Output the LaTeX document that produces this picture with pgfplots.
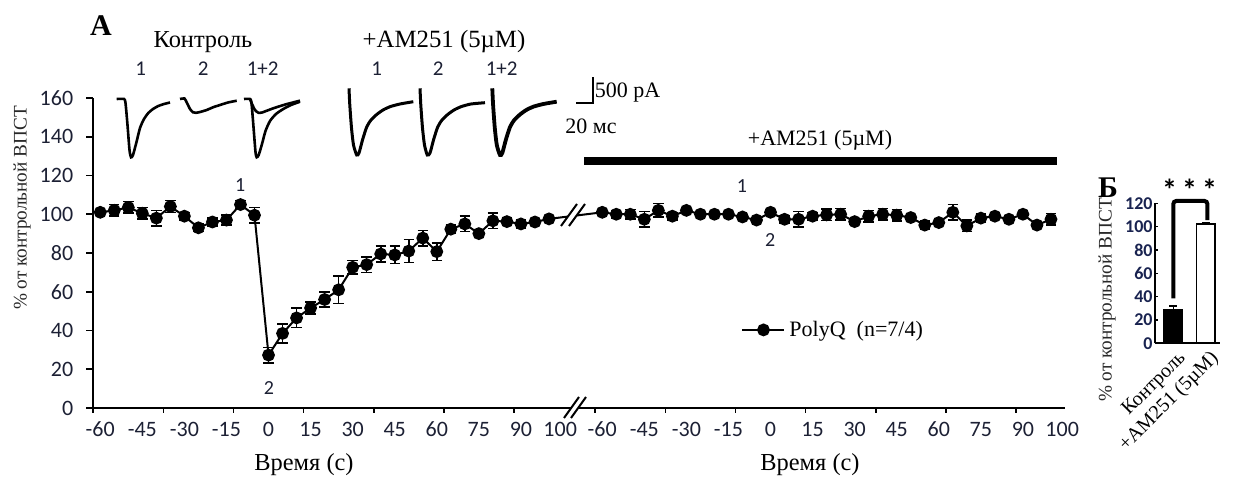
\documentclass[border=0pt]{standalone}
\usepackage{fontspec}
\setmainfont{Liberation Serif}
\newfontfamily\calibri{Carlito}
\usepackage{pgfplots}
\pgfplotsset{compat=1.18}
\definecolor{tickc}{RGB}{28,32,52}
\definecolor{tickb}{RGB}{25,35,80}
\definecolor{labc}{RGB}{40,40,40}
\newcommand{\fs}[1]{\fontsize{#1}{#1}\selectfont}
\begin{document}
\begin{tikzpicture}
\path[use as bounding box] (0,0) rectangle (618.5pt,240.5pt);

% ---------- Panel A ----------
\begin{axis}[
  at={(46.625pt,36.5pt)}, anchor=south west,
  scale only axis, width=485.875pt, height=155pt,
  xmin=-62.5, xmax=284, ymin=0, ymax=160,
  axis x line=bottom, axis y line=left,
  axis line style={-, line width=1pt, black},
  tick align=outside,
  major tick length=3.5pt, minor tick length=2.5pt,
  ytick={0,20,...,160},
  yticklabels={0,20,40,60,80,100,120,140,160},
  yticklabel style={font=\calibri\fs{11}, text=tickc, xshift=-3pt},
  xtick={-60,-45,-30,-15,0,15,30,45,60,75,90,104,119,134,149,164,179,194,209,224,239,254,269,283},
  xticklabels={-60,-45,-30,-15,0,15,30,45,60,75,90,100,-60,-45,-30,-15,0,15,30,45,60,75,90,100},
  xticklabel style={font=\calibri\fs{11}, text=tickc},
  every major x tick/.append style={draw=none},
  minor xtick={-62.5,-37.5,-12.5,12.5,37.5,62.5,87.5,116.5,141.5,166.5,191.5,216.5,241.5,266.5},
  every minor tick/.append style={line width=0.8pt, black},
  every major tick/.append style={line width=0.8pt, black},
  clip=false,
  legend style={at={(axis cs:168.5,40.3)}, anchor=west, draw=none, fill=none, inner sep=0pt, font=\fs{11}},
  legend image code/.code={\draw[mark repeat=2,mark phase=2] plot coordinates {(0pt,0pt)(10.5pt,0pt)(21pt,0pt)};},
]
\addplot[black, line width=1pt, mark=*, mark size=2.7pt, mark options={fill=black, solid},
  error bars/.cd, y dir=both, y explicit,
  error bar style={line width=0.8pt, black},
  error mark options={rotate=90, line width=0.8pt, mark size=2.6pt, black}]
coordinates {
(-60,101) +- (0,1.5)
(-55,102) +- (0,3)
(-50,103.5) +- (0,3)
(-45,100.5) +- (0,3)
(-40,98) +- (0,4)
(-35,104) +- (0,3)
(-30,99) +- (0,2)
(-25,93) +- (0,2)
(-20,96) +- (0,2)
(-15,97) +- (0,2.5)
(-10,105) +- (0,2)
(-5,99.5) +- (0,4)
(0,27.3) +- (0,4)
(5,38.5) +- (0,5)
(10,46.5) +- (0,5)
(15,51.6) +- (0,3)
(20,56) +- (0,4)
(25,61) +- (0,7)
(30,72.6) +- (0,3.5)
(35,74) +- (0,4)
(40,79.5) +- (0,4)
(45,79) +- (0,4.5)
(50,81) +- (0,6)
(55,87.7) +- (0,4)
(60,80.7) +- (0,4.5)
(65,92.3) +- (0,2)
(70,95) +- (0,4)
(75,90) +- (0,2)
(80,96.6) +- (0,4)
(85,96.2) +- (0,2)
(90,95) +- (0,2)
(95,96) +- (0,1)
(100,97.6) +- (0,1)
(119,101) +- (0,1)
(124,100) +- (0,2)
(129,100) +- (0,2.5)
(134,97.4) +- (0,4)
(139,102) +- (0,3.5)
(144,99) +- (0,2)
(149,102) +- (0,1)
(154,100) +- (0,1)
(159,100) +- (0,1)
(164,100) +- (0,1)
(169,98.6) +- (0,1)
(174,97) +- (0,1)
(179,101) +- (0,1.5)
(184,97.4) +- (0,2)
(189,97.4) +- (0,4)
(194,99) +- (0,2)
(199,99.7) +- (0,3)
(204,100) +- (0,3)
(209,96.2) +- (0,1.5)
(214,99) +- (0,3)
(219,100) +- (0,3)
(224,99.5) +- (0,3)
(229,98.3) +- (0,1.5)
(234,94.4) +- (0,2)
(239,95.7) +- (0,1.5)
(244,101) +- (0,4)
(249,94) +- (0,3)
(254,98) +- (0,2)
(259,99) +- (0,1.5)
(264,97.4) +- (0,1.5)
(269,100) +- (0,1.5)
(274,94.4) +- (0,1.5)
(279,97.4) +- (0,3)
};
\addlegendentry{PolyQ\ \ (n=7/4)}
\end{axis}

% ---------- Panel B ----------
\begin{axis}[
  at={(577.5pt,68.85pt)}, anchor=south west,
  scale only axis, width=32.5pt, height=70pt,
  xmin=0.437, xmax=2.437, ymin=0, ymax=120,
  axis x line=bottom, axis y line=left,
  axis line style={-, line width=0.8pt, black},
  tick align=inside, major tick length=1.5pt,
  ytick={0,20,...,120}, yticklabels={0,20,40,60,80,100,120},
  yticklabel style={font=\calibri\bfseries\fs{9}, text=tickb, inner sep=1pt},
  every major tick/.append style={line width=0.6pt, black},
  xtick={1,2}, xticklabels={Контроль,+AM251 (5µM)},
  every major x tick/.append style={draw=none},
  xticklabel style={font=\fs{10}, xshift=5pt, yshift=-6pt, rotate=45, anchor=east, inner sep=0pt},
  clip=false,
]
\addplot[ybar, bar width=9.3pt, bar shift=0pt, fill=black, draw=black, line width=0.8pt,
  error bars/.cd, y dir=plus, y explicit, error bar style={line width=0.7pt, black},
  error mark options={rotate=90, line width=0.7pt, mark size=2pt, black}]
  coordinates {(1,28.5) +- (0,3.5)};
\addplot[ybar, bar width=9.2pt, bar shift=0pt, fill=white, draw=black, line width=0.8pt,
  error bars/.cd, y dir=plus, y explicit, error bar style={line width=0.7pt, black},
  error mark options={rotate=90, line width=0.7pt, mark size=2pt, black}]
  coordinates {(2,102.3) +- (0,1.1)};
\draw[line width=2pt, rounded corners=1.5pt] (axis cs:1,38.5) -- (axis cs:1,122) -- (axis cs:2.05,122) -- (axis cs:2.05,105.5);
\node[font=\calibri\bfseries\fs{15}] at (axis cs:1.5,132) {*\,*\,*};
\end{axis}

% ---------- Overlay (pixel coordinates) ----------
\begin{axis}[at={(0pt,0pt)}, anchor=south west, scale only axis,
  width=618.5pt, height=240.5pt, xmin=0, xmax=1237, ymin=0, ymax=481,
  y dir=reverse, hide axis, clip=false]
% traces, control
\addplot[black, line width=1.3pt, smooth, tension=0.4, no markers] coordinates {
(116.7,99) (124,99) (125.5,103) (127.5,125) (129.5,150) (131,157.3) (133,155) (136.5,142) (140,128) (144,119) (148.3,113) (153,109) (158.3,106) (164,104) (170,102.5)};
\addplot[black, line width=1.3pt, smooth, tension=0.4, no markers] coordinates {
(180,99) (184.5,98.5) (187,103) (190,109) (193,112.3) (196,112.8) (200,112) (206.7,110) (213,107.3) (220,105) (228,102.5) (236.7,100.7)};
\addplot[black, line width=1.3pt, smooth, tension=0.4, no markers] coordinates {
(244,99) (250,99) (251.5,103) (253.5,127) (255.5,152) (256.7,157.3) (258.7,155) (262,144) (265.5,131) (270,121) (276,114) (283.3,109) (291,105) (300,101.7)};
\addplot[black, line width=1.3pt, smooth, tension=0.4, no markers] coordinates {
(250,99) (252,104) (255,110) (258.3,112.7) (262,112.5) (273.3,108.3) (286,104.3) (300,100.7)};
% traces, AM251
\addplot[black, line width=1.5pt, smooth, tension=0.4, no markers] coordinates {
(349,88.3) (349.8,105) (351.5,128) (353.5,145) (356.7,155) (359,153) (362.5,140) (366.7,127) (371,120) (376.7,114.5) (383,110) (390,106.7) (400,104) (413.3,101.7)};
\addplot[black, line width=1.5pt, smooth, tension=0.4, no markers] coordinates {
(420,88.3) (420.8,105) (422.5,128) (424.5,145) (427.3,155) (430,153) (433.5,140) (437.7,127) (442,120) (447.7,114.5) (454,110) (461,106.7) (471,104) (485,102.7)};
\addplot[black, line width=1.9pt, smooth, tension=0.4, no markers] coordinates {
(492.3,88.3) (493.1,105) (494.8,128) (496.8,145) (500,155) (502.3,153) (505.8,140) (510,127) (514.3,120) (520,114.5) (526.3,110) (533.3,106.7) (543.3,104) (556.7,101.7)};
% scale bar
\draw[line width=1pt] (axis cs:576.3,103.3) -- (axis cs:592.8,103.3) -- (axis cs:592.8,76.7);
\node[font=\fs{11}, anchor=west, inner sep=0pt] at (axis cs:594.5,93) {500 pA};
\node[font=\fs{11}] at (axis cs:591,126) {20 мс};
% titles
\node[font=\bfseries\fs{15}] at (axis cs:101,26) {A};
\node[font=\fs{12.2}] at (axis cs:203,42) {Контроль};
\node[font=\fs{12.4}] at (axis cs:444,42) {+AM251 (5µM)};
\node[font=\calibri\fs{10.5}, text=tickc] at (axis cs:140.7,68.3) {1};
\node[font=\calibri\fs{10.5}, text=tickc] at (axis cs:203.3,68.3) {2};
\node[font=\calibri\fs{10.5}, text=tickc] at (axis cs:262.7,68.3) {1+2};
\node[font=\calibri\fs{10.5}, text=tickc] at (axis cs:376.7,68.3) {1};
\node[font=\calibri\fs{10.5}, text=tickc] at (axis cs:438.3,68.3) {2};
\node[font=\calibri\fs{10.5}, text=tickc] at (axis cs:501.7,68.3) {1+2};
% drug bar
\fill[black] (axis cs:584.4,157) rectangle (axis cs:1056.9,164.7);
\node[font=\fs{11}] at (axis cs:820,140) {+AM251 (5µM)};
% point labels
\node[font=\calibri\fs{10}, text=tickc] at (axis cs:240.3,185) {1};
\node[font=\calibri\fs{10}, text=tickc] at (axis cs:269,388.3) {2};
\node[font=\calibri\fs{10}, text=tickc] at (axis cs:742,186) {1};
\node[font=\calibri\fs{10}, text=tickc] at (axis cs:770.3,240) {2};
% breaks
\fill[white] (axis cs:561,226) -- (axis cs:577,204) -- (axis cs:585,204) -- (axis cs:569,226) -- cycle;
\draw[line width=1pt] (axis cs:561,226) -- (axis cs:577,204);
\draw[line width=1pt] (axis cs:569,226) -- (axis cs:585,204);
\fill[white] (axis cs:564,418) -- (axis cs:579,397) -- (axis cs:586,397) -- (axis cs:571,418) -- cycle;
\draw[line width=1pt] (axis cs:564,418) -- (axis cs:579,397);
\draw[line width=1pt] (axis cs:571,418) -- (axis cs:586,397);
% axis labels
\node[font=\fs{12.2}] at (axis cs:304,465) {Время (с)};
\node[font=\fs{12.2}] at (axis cs:810,465) {Время (с)};
\node[font=\fs{9.6}, text=labc, rotate=90] at (axis cs:22,208) {\% от контрольной ВПСТ};
\node[font=\fs{9.6}, text=labc, rotate=90] at (axis cs:1107,300) {\% от контрольной ВПСТ};
\node[font=\bfseries\fs{15}] at (axis cs:1108,188) {Б};
\end{axis}
\end{tikzpicture}
\end{document}
